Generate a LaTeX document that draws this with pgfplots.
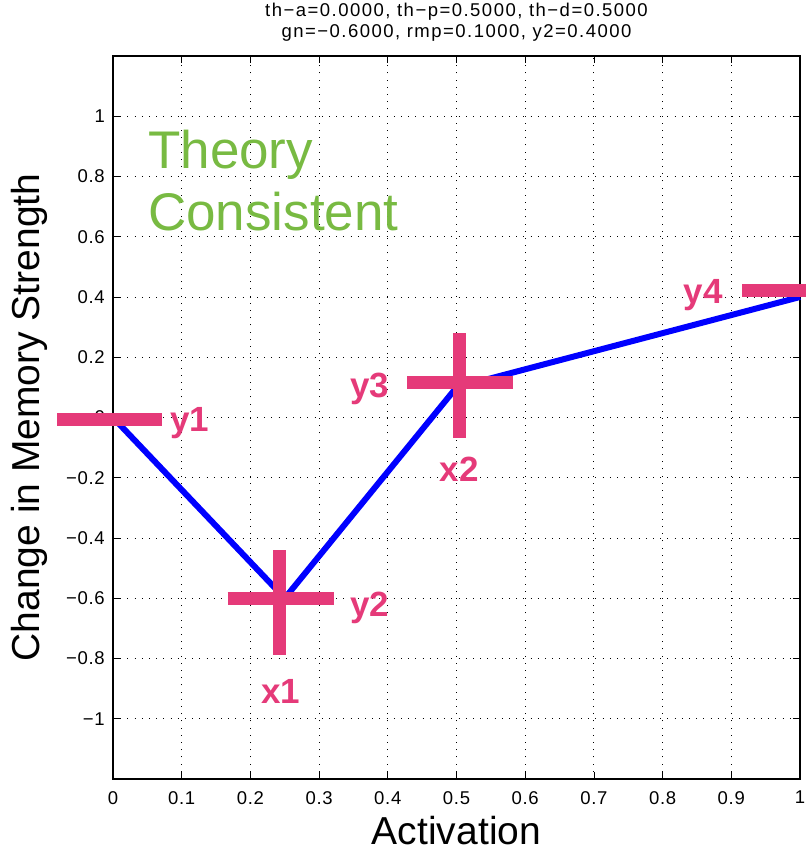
\documentclass[border=0pt]{standalone}
\usepackage{fontspec}
\setmainfont{Liberation Sans}
\newfontfamily\tickfont{Liberation Sans}[LetterSpace=4]
\newfontfamily\titlefont{Liberation Sans}[LetterSpace=8]
\usepackage{pgfplots}
\pgfplotsset{compat=1.18}
\definecolor{mpink}{RGB}{229,58,121}
\definecolor{mgreen}{RGB}{120,186,66}
\begin{document}
\begin{tikzpicture}
\begin{axis}[
  set layers,
  at={(113pt,73pt)}, anchor=south west,
  scale only axis, width=687pt, height=723pt,
  xmin=0, xmax=1, ymin=-1.2, ymax=1.2,
  clip=false,
  xtick={0,0.1,0.2,0.3,0.4,0.5,0.6,0.7,0.8,0.9,1},
  xticklabels={0,0.1,0.2,0.3,0.4,0.5,0.6,0.7,0.8,0.9,1},
  ytick={-1,-0.8,-0.6,-0.4,-0.2,0,0.2,0.4,0.6,0.8,1},
  yticklabels={−1,−0.8,−0.6,−0.4,−0.2,0,0.2,0.4,0.6,0.8,1},
  tick pos=both,
  tick align=inside, major tick length=7pt,
  tick style={black, line width=0.8pt},
  axis line style={line width=1.5pt},
  grid=major,
  grid style={black, line width=0.9pt, dash pattern=on 0.9pt off 6.3pt},
  ticklabel style={font=\tickfont\fontsize{18.5}{22}\selectfont},
  yticklabel style={inner sep=0pt, xshift=-8pt},
  xticklabel style={inner sep=0pt, yshift=-12pt},
  title={th−a=0.0000, th−p=0.5000, th−d=0.5000\\gn=−0.6000, rmp=0.1000, y2=0.4000},
  title style={font=\titlefont\fontsize{18.5}{21}\selectfont, align=center, inner sep=0pt, at={(axis description cs:0.5,1)}, anchor=south, yshift=8pt},
  xlabel={Activation},
  ylabel={Change in Memory Strength},
  every axis x label/.style={at={(axis description cs:0.5,0)}, anchor=base, yshift=-66pt, font=\fontsize{39}{45}\selectfont},
  every axis y label/.style={at={(axis description cs:0,0.5)}, xshift=-84pt, rotate=90, anchor=center, font=\fontsize{39}{45}\selectfont},
]
\addplot[blue, line width=6pt, line join=round] coordinates {(0,0) (0.25,-0.6) (0.5,0.1) (1,0.4)};
% markers
\addplot[mpink, line width=13pt] coordinates {(-0.0815,-0.006) (0.0713,-0.006)};
\addplot[mpink, line width=13pt] coordinates {(0.167,-0.6) (0.322,-0.6)};
\addplot[mpink, line width=13pt] coordinates {(0.243,-0.44) (0.243,-0.79)};
\addplot[mpink, line width=13pt] coordinates {(0.428,0.115) (0.582,0.115)};
\addplot[mpink, line width=13pt] coordinates {(0.505,0.28) (0.505,-0.068)};
\addplot[mpink, line width=13pt] coordinates {(0.9156,0.423) (1.0087,0.423)};
% labels
\node[mpink, font=\bfseries\fontsize{35}{40}\selectfont, anchor=base] at (axis cs:0.112,-0.046) {y1};
\node[mpink, font=\bfseries\fontsize{35}{40}\selectfont, anchor=base] at (axis cs:0.374,-0.659) {y2};
\node[mpink, font=\bfseries\fontsize{35}{40}\selectfont, anchor=base] at (axis cs:0.2445,-0.948) {x1};
\node[mpink, font=\bfseries\fontsize{35}{40}\selectfont, anchor=base] at (axis cs:0.504,-0.214) {x2};
\node[mpink, font=\bfseries\fontsize{35}{40}\selectfont, anchor=base] at (axis cs:0.374,0.068) {y3};
\node[mpink, font=\bfseries\fontsize{35}{40}\selectfont, anchor=base] at (axis cs:0.859,0.377) {y4};
\node[mgreen, font=\fontsize{53}{62}\selectfont, anchor=base west, inner sep=0pt] at (axis cs:0.0509,0.828) {Theory};
\node[mgreen, font=\fontsize{53}{62}\selectfont, anchor=base west, inner sep=0pt] at (axis cs:0.0509,0.622) {Consistent};
\end{axis}
\pgfresetboundingbox
\useasboundingbox (0,0) rectangle (806pt,852pt);
\end{tikzpicture}
\end{document}
